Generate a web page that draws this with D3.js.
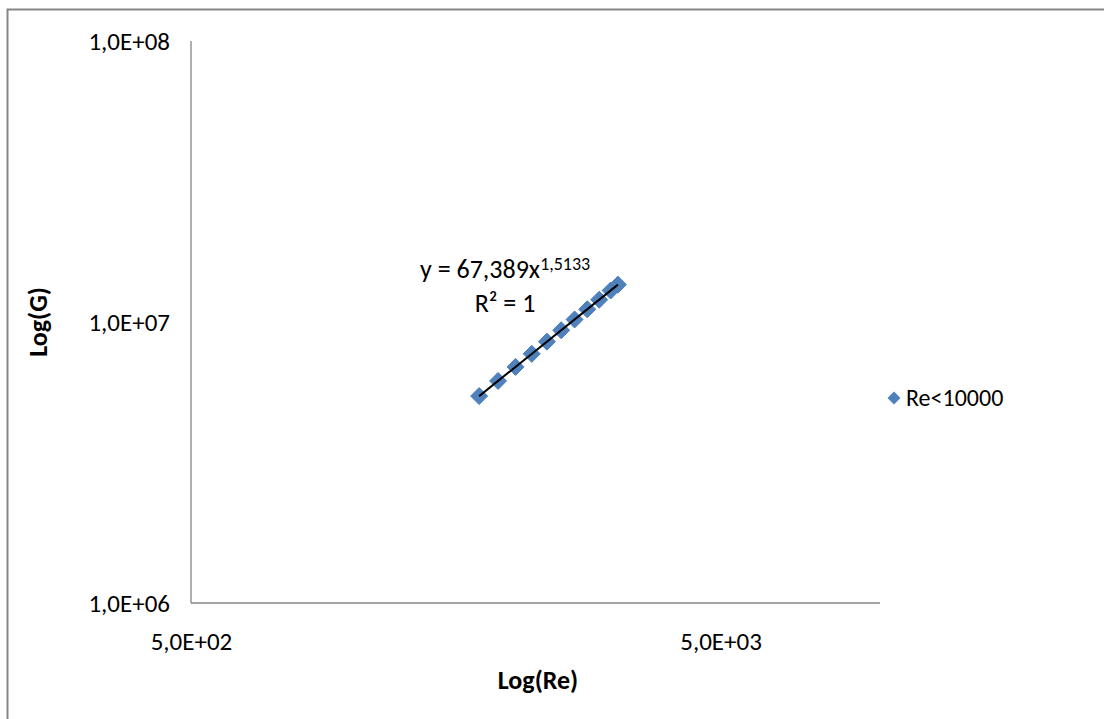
<!DOCTYPE html>
<html><head><meta charset="utf-8">
<script src="https://cdn.jsdelivr.net/npm/d3@7"></script>
<style>body{margin:0;background:#fff}svg{display:block}text{font-family:Carlito,Calibri,"Open Sans","Noto Sans",sans-serif;fill:#000}</style>
</head><body>
<svg id="c" width="1104" height="719"></svg>
<script>
const reValues = [1750, 1900, 2050, 2200, 2350, 2500, 2650, 2800, 2950, 3100, 3200];
const gValues = [5.449e6, 6.170e6, 6.922e6, 7.703e6, 8.511e6, 9.347e6, 1.0208e7, 1.1096e7, 1.2008e7, 1.2943e7, 1.3580e7];
const xTicks = [500, 5000];
const xTickLabels = ["5,0E+02", "5,0E+03"];
const yTicks = [1e6, 1e7, 1e8];
const yTickLabels = ["1,0E+06", "1,0E+07", "1,0E+08"];
const seriesName = "Re<10000";
const trendA = 67.389, trendB = 1.5133;

const svg = d3.select("#c");
const L = 191, R = 880, T = 41, B = 603;
const x = d3.scaleLog().domain([500, 10000]).range([L, R]);
const y = d3.scaleLog().domain([1e6, 1e8]).range([B, T]);
const axisColor = "#868686";

// outer chart border
svg.append("rect").attr("x", 7.5).attr("y", 9.5).attr("width", 1200).attr("height", 800)
  .attr("fill", "none").attr("stroke", axisColor).attr("stroke-width", 2);

// axes
const xa = svg.append("g").attr("transform", `translate(0,${B})`)
  .call(d3.axisBottom(x).tickValues(xTicks).tickFormat((d, i) => xTickLabels[i]).tickSize(0).tickPadding(29));
const ya = svg.append("g").attr("transform", `translate(${L},0)`)
  .call(d3.axisLeft(y).tickValues(yTicks).tickFormat((d, i) => yTickLabels[i]).tickSize(0).tickPadding(21));
[xa, ya].forEach(a => {
  a.select(".domain").attr("stroke", axisColor).attr("stroke-width", 1.3);
  a.selectAll("text").style("font-size", "25px");
});
xa.select(".domain").attr("d", `M${L},0H${R}`);
ya.select(".domain").attr("d", `M0,${T}V${B}`);

// markers (square rotated 45deg)
const ds = 8.5;
const diamond = `M0,${-ds}L${ds},0L0,${ds}L${-ds},0Z`;
svg.append("g").selectAll("path").data(reValues).join("path")
  .attr("d", diamond)
  .attr("transform", (d, i) => `translate(${x(d)},${y(gValues[i])})`)
  .attr("fill", "#4F81BD").attr("stroke", "#4A7EBB").attr("stroke-width", 1);

// power trendline
const xmin = d3.min(reValues), xmax = d3.max(reValues);
const trendPts = [xmin, xmax].map(v => [x(v), y(trendA * Math.pow(v, trendB))]);
svg.append("path").attr("d", d3.line()(trendPts)).attr("stroke", "#000").attr("stroke-width", 2).attr("fill", "none");

// trendline label
const eq = svg.append("text").attr("x", 420).attr("y", 278).style("font-size", "26px");
eq.append("tspan").text("y = 67,389x");
eq.append("tspan").attr("dy", -8).style("font-size", "18px").text("1,5133");
svg.append("text").attr("x", 505).attr("y", 312).attr("text-anchor", "middle").style("font-size", "26px").text("R² = 1");

// axis titles
svg.append("text").attr("x", 538).attr("y", 680).attr("dy", "0.35em").attr("text-anchor", "middle")
  .style("font-size", "26px").style("font-weight", "bold").text("Log(Re)");
svg.append("text").attr("transform", "translate(38,322) rotate(-90)").attr("dy", "0.35em").attr("text-anchor", "middle")
  .style("font-size", "26px").style("font-weight", "bold").text("Log(G)");

// legend
const lg = svg.append("g").attr("transform", "translate(894,398)");
lg.append("path").attr("d", `M0,-6.5L6.5,0L0,6.5L-6.5,0Z`).attr("fill", "#4F81BD");
lg.append("text").attr("x", 12).attr("y", 0).attr("dy", "0.35em").style("font-size", "24px").text(seriesName);
</script>
</body></html>
